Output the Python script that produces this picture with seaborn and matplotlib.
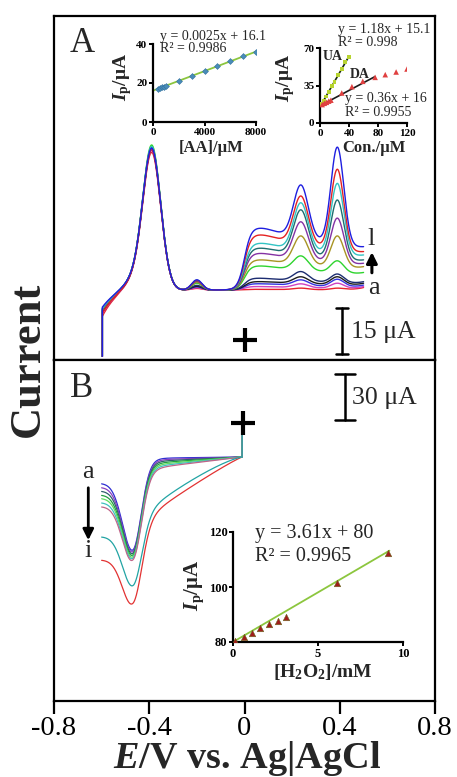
import numpy as np
import pandas as pd
import matplotlib
matplotlib.use("Agg")
import matplotlib.pyplot as plt
import seaborn as sns

# ---------------- data ----------------
# Panel A: DPV curves a..l, currents in uA at characteristic potentials
A_names = list("abcdefghijkl")
A_colors = ["#e8242c", "#d042c0", "#3434e0", "#1c1c1c", "#1c2c70", "#2ed42e",
            "#a89424", "#8432a4", "#1f6e70", "#32c4c4", "#e42222", "#1e1ee0"]
A_start = [14.0, 14.8, 15.2, 15.5, 15.8, 16.0, 16.2, 16.3, 16.5, 16.6, 15.0, 17.0]
A_peak1 = [67.6, 68.2, 68.6, 68.8, 69.0, 70.0, 69.2, 68.9, 69.3, 69.5, 68.5, 69.0]
A_peak_small = [23.3, 23.5, 23.8, 24.0, 24.3, 25.0, 25.3, 25.6, 25.8, 26.0, 25.9, 26.1]
A_hump = [23.0, 23.9, 24.8, 25.5, 26.6, 30.6, 32.6, 34.7, 36.4, 38.0, 40.7, 42.9]
A_peak2 = [23.4, 24.8, 26.1, 27.1, 28.8, 33.9, 40.4, 45.0, 48.9, 51.2, 53.4, 57.0]
A_peak3 = [23.4, 25.0, 26.3, 27.1, 28.0, 32.3, 40.4, 46.2, 52.1, 57.5, 62.1, 69.3]
A_end = [23.4, 23.9, 24.4, 25.0, 25.5, 28.5, 30.4, 31.5, 32.6, 34.2, 35.3, 36.9]
A_potentials = {"start": -0.597, "p1": -0.39, "ps": -0.20, "hump": 0.08,
                "p2": 0.237, "p3": 0.39, "end": 0.50}
A_baseline = 22.8
A_vertical_start = 1.2

# Panel B: curves a..i (uA), values at characteristic potentials
B_names = list("abcdefghi")
B_colors = ["#2e2ed2", "#8a40c0", "#2f5f6c", "#22a040", "#60dc60", "#40c0c0",
            "#c06488", "#22a4a4", "#e23232"]
B_start = [142.3, 139.7, 137.3, 134.7, 132.5, 129.7, 127.1, 107.4, 92.2]
B_min = [98.7, 97.6, 96.5, 95.4, 94.3, 93.3, 92.2, 75.4, 63.8]
B_plateau = [158.8, 157.9, 157.0, 156.0, 155.0, 154.0, 153.0, 131.4, 127.1]
B_curv = [1.0, 1.0, 1.0, 1.0, 1.0, 1.0, 1.0, 1.3, 1.1]
B_final = 159.5
B_jump = 181.7
B_potentials = {"start": -0.60, "min": -0.469, "plateau": -0.35, "end": -0.01}

# Inset 1: AA
AA_conc = [400, 550, 700, 850, 1000, 2000, 3000, 4000, 5000, 6000, 7000, 8000]
AA_ip = [17.0, 17.4, 17.8, 18.2, 18.7, 21.2, 23.4, 26.3, 28.8, 31.4, 33.6, 35.8]
AA_fit = (0.0025, 16.1)

# Inset 2: UA and DA
UA_conc = [2, 5, 8, 12, 16, 20, 25, 30, 35, 40]
UA_ip = [17.6, 20.8, 24.7, 29.0, 34.3, 38.4, 45.0, 50.0, 56.7, 62.0]
DA_conc = [3, 6, 9, 12, 15, 30, 44, 59, 76, 90, 105, 120]
DA_ip = [17.2, 18.4, 19.3, 20.4, 21.3, 28.0, 33.9, 38.9, 42.6, 45.1, 47.6, 50.4]
UA_fit = (1.18, 15.1)
DA_fit = (0.36, 16.0)

# Inset B: H2O2
H2O2_conc = [0.1, 0.65, 1.1, 1.6, 2.1, 2.65, 3.1, 6.1, 9.1]
H2O2_ip = [80.4, 81.8, 83.4, 85.2, 86.4, 87.8, 89.2, 101.6, 112.2]
H2O2_fit = (3.61, 80.0)

x_ticks = [-0.8, -0.4, 0, 0.4, 0.8]
x_ticklabels = ["-0.8", "-0.4", "0", "0.4", "0.8"]

# ---------------- style ----------------
sns.set_theme(style="white")
plt.rcParams.update({
    "font.family": ["Liberation Serif", "DejaVu Serif"],
    "mathtext.fontset": "custom",
    "mathtext.rm": "Liberation Serif:bold",
    "mathtext.it": "Liberation Serif:bold:italic",
    "mathtext.bf": "Liberation Serif:bold",
    "axes.unicode_minus": False,
    "axes.edgecolor": "black",
    "axes.linewidth": 1.5,
})


def gauss(E, c, s):
    return np.exp(-0.5 * ((E - c) / s) ** 2)


def curve_A(i):
    P = A_potentials
    E = np.linspace(P["start"], P["end"], 800)

    def base(x):
        x = np.asarray(x, dtype=float)
        return (A_baseline - (A_baseline - A_start[i]) * np.exp(-(x - P["start"]) / 0.06)
                + 0.8 * np.exp((x - P["end"]) / 0.04))

    def p1shape(x):
        x = np.asarray(x, dtype=float)
        left = 0.8 * gauss(x, P["p1"], 0.036) + 0.2 * gauss(x, P["p1"], 0.075)
        right = gauss(x, P["p1"], 0.038)
        return np.where(x < P["p1"], left, right)

    H1 = A_peak1[i] - base(P["p1"])
    Hs = A_peak_small[i] - base(P["ps"])
    Ph = A_hump[i] - base(P["hump"])
    Pe = max(A_end[i] - base(P["end"]), 0.0)

    def inc(x):
        sig = 1.0 / (1.0 + np.exp(-(x - 0.0) / 0.014))
        lin = 0.96 * Ph + (Pe - 0.96 * Ph) * (x - P["hump"]) / (P["end"] - P["hump"])
        return sig * (lin + 0.04 * Ph * gauss(x, P["hump"], 0.05))

    A2 = max(A_peak2[i] - base(P["p2"]) - inc(P["p2"]), 0.0)
    A3 = max(A_peak3[i] - base(P["p3"]) - inc(P["p3"]) - A2 * gauss(P["p3"], P["p2"], 0.031), 0.0)
    I = (base(E) + H1 * p1shape(E) + Hs * gauss(E, P["ps"], 0.022) + inc(E)
         + A2 * gauss(E, P["p2"], 0.031) + A3 * gauss(E, P["p3"], 0.027))
    E = np.concatenate([[P["start"]], E])
    I = np.concatenate([[A_vertical_start], I])
    return E, I


def curve_B(i):
    P = B_potentials
    E = np.linspace(P["start"], P["end"], 700)
    L, R1, p = B_start[i], B_plateau[i], B_curv[i]

    def R(x):
        f = (P["end"] - x) / (P["end"] - P["plateau"])
        return B_final - (B_final - R1) * np.abs(f) ** p

    def base(x):
        sig = 1.0 / (1.0 + np.exp(-(x + 0.43) / 0.022))
        return L + (R(x) - L) * sig

    D = base(P["min"]) - B_min[i]
    shape = np.where(E < P["min"], gauss(E, P["min"], 0.042), gauss(E, P["min"], 0.035))
    I = base(E) - D * shape
    E = np.concatenate([E, [P["end"]]])
    I = np.concatenate([I, [B_jump]])
    return E, I


# ---------------- figure ----------------
W, H = 457, 777
fig = plt.figure(figsize=(W / 100, H / 100), dpi=100)


def frac(x0, y_top, x1, y_bot):
    return [x0 / W, 1 - y_bot / H, (x1 - x0) / W, (y_bot - y_top) / H]


axA = fig.add_axes(frac(54, 16, 435, 360))
axB = fig.add_axes(frac(54, 360, 435, 701))

for i in range(len(A_names)):
    E, I = curve_A(i)
    sns.lineplot(x=E, y=I, sort=False, estimator=None, color=A_colors[i], lw=1.0, ax=axA)

orderB = [8, 0, 1, 2, 3, 4, 5, 6, 7]
for i in orderB:
    E, I = curve_B(i)
    sns.lineplot(x=E, y=I, sort=False, estimator=None, color=B_colors[i], lw=0.9, ax=axB)

for ax in (axA, axB):
    ax.set_xlim(-0.8, 0.8)
    ax.set_yticks([])
    ax.set_ylabel("")
    ax.set_xlabel("")
    for s in ax.spines.values():
        s.set_linewidth(1.6)
        s.set_visible(True)
axA.set_ylim(0, 112)
axB.set_ylim(0, 222.9)
axA.set_xticks([])
axB.set_xticks(x_ticks)
axB.set_xticklabels(x_ticklabels)
axB.tick_params(axis="x", direction="out", length=9, width=1.6, labelsize=20.5,
                pad=1.5, bottom=True, colors="black")

# panel labels and annotations
axA.text(0.073, 0.921, "A", transform=axA.transAxes, fontsize=25, ha="center", va="center")
axB.text(0.073, 0.915, "B", transform=axB.transAxes, fontsize=25, ha="center", va="center")

# scale bars
def scalebar(ax, x, y0, y1, half):
    ax.plot([x, x], [y0, y1], color="black", lw=1.8)
    ax.plot([x - half, x + half], [y0, y0], color="black", lw=1.8)
    ax.plot([x - half, x + half], [y1, y1], color="black", lw=1.8)

scalebar(axA, 0.41, 2.0, 17.0, 0.026)
axA.text(0.448, 9.0, "15 μA", fontsize=18.5, ha="left", va="center")
scalebar(axB, 0.422, 183.7, 213.7, 0.04)
axB.text(0.452, 198.0, "30 μA", fontsize=18.5, ha="left", va="center")

axA.plot([0.002], [6.5], marker="+", ms=17, mew=3, color="black")
axB.plot([-0.008], [B_jump], marker="+", ms=17, mew=3, color="black")

axA.text(0.518, 37.5, "l", fontsize=19, ha="left", va="baseline")
axA.text(0.518, 21.5, "a", fontsize=19, ha="left", va="baseline")
axA.annotate("", xy=(0.535, 36.0), xytext=(0.535, 27.5),
             arrowprops=dict(arrowstyle="-|>", lw=2.2, color="black", mutation_scale=16))
axB.text(-0.657, 145.8, "a", fontsize=19, ha="center", va="baseline")
axB.text(-0.657, 94.1, "i", fontsize=19, ha="center", va="baseline")
axB.annotate("", xy=(-0.656, 103.3), xytext=(-0.656, 141.2),
             arrowprops=dict(arrowstyle="-|>", lw=2.0, color="black", mutation_scale=16))

fig.text(0.060, 0.537, "Current", rotation=90, fontsize=32, fontweight="bold",
         ha="center", va="center")
fig.text(0.54, 0.011, r"$\mathit{E}$/V vs. Ag|AgCl", fontsize=27.5, fontweight="bold",
         ha="center", va="baseline")

# ---------------- insets ----------------
def style_inset(ax, xt, yt, xl, yl, lsize=8):
    ax.set_facecolor("none")
    ax.set_xlim(*xl)
    ax.set_ylim(*yl)
    ax.set_xticks(xt)
    ax.set_yticks(yt)
    for side in ("top", "right"):
        ax.spines[side].set_visible(False)
    for side in ("left", "bottom"):
        ax.spines[side].set_linewidth(1.6)
        ax.spines[side].set_color("black")
    ax.tick_params(direction="out", length=3, width=1.4, labelsize=lsize, pad=1,
                   left=True, bottom=True, colors="black")
    for t in ax.get_xticklabels() + ax.get_yticklabels():
        t.set_fontweight("bold")
    ax.set_xlabel("")
    ax.set_ylabel("")


ylab = r"$I_\mathrm{p}$/μA"

# inset 1
ax1 = fig.add_axes(frac(153, 44, 256, 122))
xs = np.array([0, AA_conc[-1]])
sns.lineplot(x=xs, y=AA_fit[0] * xs + AA_fit[1], color="#8cc63e", lw=1.3, ax=ax1)
sns.scatterplot(x=AA_conc, y=AA_ip, color="#4a8cb8", marker="D", s=9, edgecolor="#2f6f9f",
                linewidth=0.4, ax=ax1, zorder=3)
style_inset(ax1, [0, 4000, 8000], [0, 20, 40], (0, 8000), (0, 40))
ax1.text(-0.30, 0.58, ylab, transform=ax1.transAxes, rotation=90, fontsize=14,
         fontweight="bold", ha="center", va="center")
ax1.text(0.563, -0.33, "[AA]/μM", transform=ax1.transAxes, fontsize=12,
         fontweight="bold", ha="center", va="center")
ax1.text(0.068, 1.10, "y = 0.0025x + 16.1", transform=ax1.transAxes, fontsize=10,
         ha="left", va="center")
ax1.text(0.068, 0.936, "R² = 0.9986", transform=ax1.transAxes, fontsize=10,
         ha="left", va="center")

# inset 2
ax2 = fig.add_axes(frac(320, 48, 407, 123))
xu = np.array([0, UA_conc[-1]])
xd = np.array([0, DA_conc[8]])
sns.lineplot(x=xu, y=UA_fit[0] * xu + UA_fit[1], color="#1a2a10", lw=1.2, ax=ax2)
sns.lineplot(x=xd, y=DA_fit[0] * xd + DA_fit[1], color="#1a1a1a", lw=1.2, ax=ax2)
sns.scatterplot(x=UA_conc, y=UA_ip, color="#b8d430", marker="s", s=8, edgecolor="none",
                ax=ax2, zorder=3)
sns.scatterplot(x=DA_conc, y=DA_ip, color="#e04040", marker="^", s=16, edgecolor="none",
                ax=ax2, zorder=3)
style_inset(ax2, [0, 40, 80, 120], [0, 35, 70], (0, 120), (0, 70))
ax2.text(-0.397, 0.607, ylab, transform=ax2.transAxes, rotation=90, fontsize=14,
         fontweight="bold", ha="center", va="center")
ax2.text(0.615, -0.34, "Con./μM", transform=ax2.transAxes, fontsize=12,
         fontweight="bold", ha="center", va="center")
ax2.text(0.207, 1.253, "y = 1.18x + 15.1", transform=ax2.transAxes, fontsize=10,
         ha="left", va="center")
ax2.text(0.207, 1.073, "R² = 0.998", transform=ax2.transAxes, fontsize=10,
         ha="left", va="center")
ax2.text(0.034, 0.893, "UA", transform=ax2.transAxes, fontsize=10, fontweight="bold",
         ha="left", va="center")
ax2.text(0.345, 0.653, "DA", transform=ax2.transAxes, fontsize=10, fontweight="bold",
         ha="left", va="center")
ax2.text(0.287, 0.327, "y = 0.36x + 16", transform=ax2.transAxes, fontsize=10,
         ha="left", va="center")
ax2.text(0.287, 0.14, "R² = 0.9955", transform=ax2.transAxes, fontsize=10,
         ha="left", va="center")

# inset B
ax3 = fig.add_axes(frac(233, 532, 403, 642))
xh = np.array([0, 9.2])
sns.lineplot(x=xh, y=H2O2_fit[0] * xh + H2O2_fit[1], color="#8cc63e", lw=1.3, ax=ax3)
sns.scatterplot(x=H2O2_conc, y=H2O2_ip, color="#a01c1c", marker="^", s=22,
                edgecolor="#6a6a20", linewidth=0.4, ax=ax3, zorder=3)
style_inset(ax3, [0, 5, 10], [80, 100, 120], (0, 10), (80, 120), lsize=9)
ax3.text(-0.229, 0.518, ylab, transform=ax3.transAxes, rotation=90, fontsize=15,
         fontweight="bold", ha="center", va="center")
ax3.text(0.526, -0.27, r"[H$_\mathrm{2}$O$_\mathrm{2}$]/mM", transform=ax3.transAxes,
         fontsize=14, fontweight="bold", ha="center", va="center")
ax3.text(0.129, 0.99, "y = 3.61x + 80", transform=ax3.transAxes, fontsize=14.5,
         ha="left", va="center")
ax3.text(0.129, 0.773, "R² = 0.9965", transform=ax3.transAxes, fontsize=14.5,
         ha="left", va="center")

fig.savefig("out.png", dpi=100)
